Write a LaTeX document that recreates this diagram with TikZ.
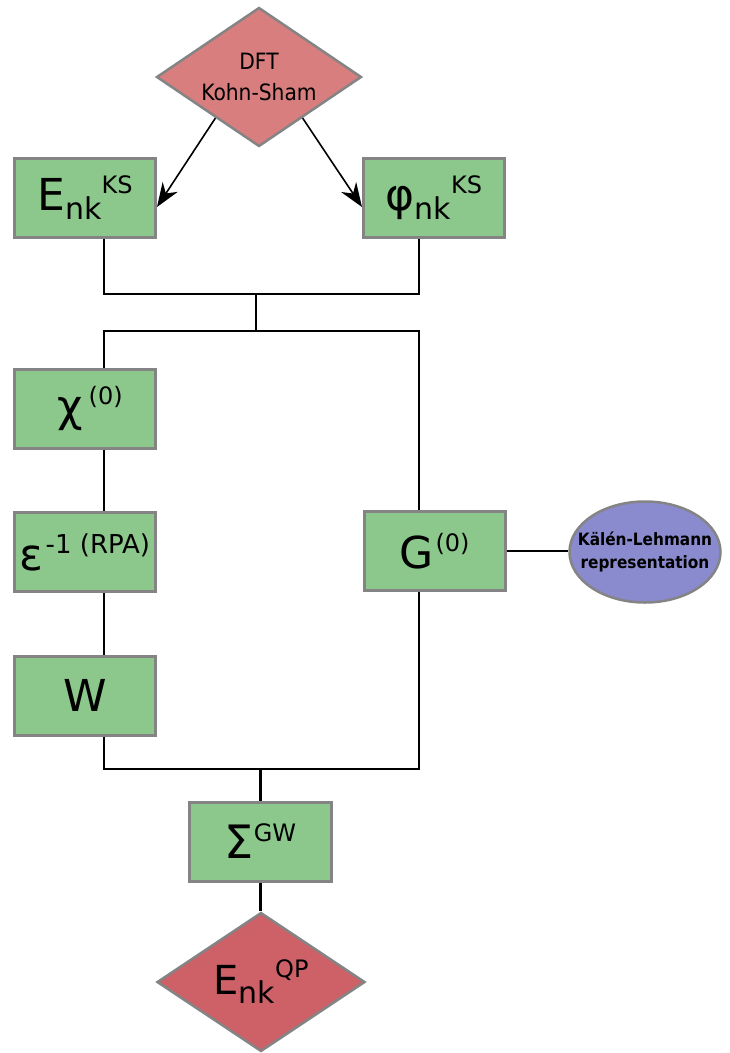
\documentclass[tikz,border=0pt]{standalone}
\usepackage{fontspec}
\setmainfont{DejaVu Sans}
\newfontfamily\narrowfont{DejaVu Sans Condensed}
\usetikzlibrary{shapes.geometric,arrows.meta,calc}

\definecolor{boxgreen}{RGB}{140,199,140}
\definecolor{edgegray}{RGB}{132,132,132}
\definecolor{dftpink}{RGB}{216,126,126}
\definecolor{qpred}{RGB}{206,96,104}
\definecolor{klblue}{RGB}{138,138,206}

% lowered index and raised label after a large symbol
\newcommand{\subtxt}[1]{\raisebox{-9pt}{\fontsize{30}{30}\selectfont #1}}
\newcommand{\suptxt}[2][24]{\raisebox{17pt}{\fontsize{#1}{#1}\selectfont #2}}

\begin{document}
\begin{tikzpicture}[x=1pt,y=-1pt,
  box/.style={draw=edgegray, line width=3pt, fill=boxgreen,
    minimum width=141pt, minimum height=79pt, inner sep=0pt,
    font=\fontsize{44}{44}\selectfont},
  dia/.style={shape=diamond, draw=edgegray, line width=2.5pt, inner sep=0pt,
    aspect=1.45, minimum width=205pt, minimum height=139pt},
  wire/.style={draw=black, line width=2.3pt},
  feed/.style={draw=black, line width=1.6pt, -{Stealth[length=24pt,width=18pt]}},
  kl/.style={shape=ellipse, draw=edgegray, line width=2.5pt, fill=klblue,
    minimum width=151pt, minimum height=101pt, inner sep=0pt},
  kltext/.style={align=center, font=\narrowfont\fontsize{17}{23}\selectfont\bfseries, inner sep=0pt}
]
\useasboundingbox (0,0) rectangle (730,1053);

% starting point: DFT
\node[dia, fill=dftpink, align=center, font=\narrowfont\fontsize{22.5}{31}\selectfont]
  (dft) at (259,77) {DFT\\Kohn-Sham};

% Kohn-Sham quantities
\node[box] (eks) at (85,198) {E\subtxt{nk}\suptxt{KS}};
\node[box] (phi) at (434,198) {φ\subtxt{nk}\suptxt{KS}};

% screened interaction branch
\node[box] (chi) at (85,408.5) {\hspace{10pt}χ\hspace{6pt}\suptxt{(0)}};
\node[box] (eps) at (85,552) {ε\hspace{2pt}\suptxt[26]{-1 (RPA)}};
\node[box] (W) at (85,695.5) {W};

% Green's function branch
\node[box] (G) at (434.5,551) {G\hspace{2pt}\suptxt{(0)}};
\node[kl] (kl) at (645,552) {};
\node[kltext] (kllabel) at (kl.center) {Kälén-Lehmann\\representation};

% self-energy and quasiparticle energies
\node[box, minimum width=142pt, font=\fontsize{46}{46}\selectfont]
  (sig) at (260.5,841.5) {Σ\suptxt{GW}};
\node[dia, fill=qpred, minimum width=208pt, font=\fontsize{40}{40}\selectfont]
  (qp) at (261,982) {E\subtxt{nk}\suptxt{QP}};

% junctions and column positions
\coordinate (lx) at (104,0);
\coordinate (rx) at (419,0);
\coordinate (jt) at (256,294);
\coordinate (jm) at (256,331);
\coordinate (jb) at (260.5,769);

% arrows out of the DFT step
\draw[feed] ($(dft.west)!0.58!(dft.south)$) -- ($(eks.east)+(0,9)$);
\draw[feed] ($(dft.east)!0.58!(dft.south)$) -- ($(phi.west)+(0,9)$);

% wiring
\draw[wire] (eks.south -| lx) |- (jt) -| (phi.south -| rx);
\draw[wire] (jt) -- (jm);
\draw[wire] (chi.north -| lx) |- (jm) -| (G.north -| rx);
\draw[wire] (chi.south -| lx) -- (eps.north -| lx);
\draw[wire] (eps.south -| lx) -- (W.north -| lx);
\draw[wire] (W.south -| lx) |- (jb) -| (G.south -| rx);
\draw[wire] (jb) -- (sig.north);
\draw[wire] (sig.south) -- (sig.south |- qp.north);
\draw[wire] (G.east) -- (G.east -| kl.west);
\end{tikzpicture}
\end{document}
